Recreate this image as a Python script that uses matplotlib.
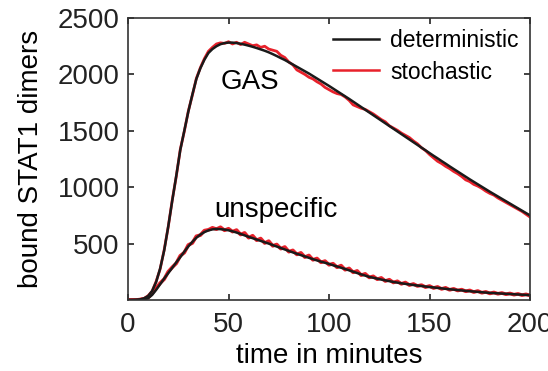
import matplotlib
matplotlib.use('Agg')
import matplotlib.pyplot as plt
import numpy as np

plt.rcParams['font.family'] = ['Liberation Sans', 'DejaVu Sans']

# time grid in minutes (2 min steps)
t = np.arange(0, 201, 2)

gas_det = [0, 0, 2, 5, 15, 35, 80, 160, 280, 440,
           650, 880, 1100, 1330, 1500, 1670, 1820, 1960, 2055, 2130,
           2190, 2225, 2250, 2268, 2278, 2282, 2282, 2278, 2272, 2264,
           2255, 2245, 2234, 2222, 2210, 2196, 2180, 2163, 2145, 2128,
           2108, 2088, 2068, 2048, 2028, 2008, 1986, 1964, 1942, 1920,
           1898, 1875, 1852, 1829, 1806, 1783, 1759, 1735, 1711, 1687,
           1663, 1639, 1615, 1591, 1567, 1543, 1519, 1495, 1471, 1447,
           1423, 1399, 1375, 1351, 1327, 1303, 1279, 1256, 1232, 1209,
           1185, 1162, 1139, 1116, 1093, 1070, 1048, 1026, 1004, 982,
           960, 939, 918, 897, 876, 855, 834, 813, 792, 771,
           750]

gas_sto = [0, 0, 3, 6, 14, 38, 78, 165, 275, 445,
           648, 885, 1095, 1335, 1495, 1675, 1815, 1965, 2060, 2140,
           2205, 2240, 2270, 2280, 2275, 2290, 2270, 2285, 2265, 2285,
           2270, 2255, 2262, 2240, 2250, 2225, 2215, 2205, 2170, 2150,
           2110, 2085, 2040, 2020, 2000, 1975, 1960, 1935, 1915, 1885,
           1865, 1845, 1830, 1822, 1800, 1770, 1730, 1715, 1700, 1690,
           1670, 1650, 1625, 1600, 1580, 1545, 1525, 1505, 1480, 1460,
           1440, 1410, 1385, 1350, 1325, 1290, 1260, 1230, 1210, 1185,
           1165, 1140, 1120, 1095, 1065, 1050, 1025, 1010, 990, 965,
           945, 930, 905, 885, 865, 845, 825, 805, 785, 760,
           735]

unsp_det = [0, 0, 0, 2, 8, 15, 45, 90, 140, 190,
            238, 285, 333, 380, 428, 475, 515, 552, 580, 602,
            617, 626, 630, 628, 624, 618, 609, 598, 586, 573,
            560, 548, 536, 524, 512, 500, 487, 474, 461, 448,
            435, 422, 410, 398, 386, 374, 362, 351, 340, 330,
            320, 308, 297, 286, 275, 263, 251, 239, 227, 216,
            205, 197, 189, 181, 174, 167, 160, 154, 148, 143,
            138, 133, 128, 124, 119, 115, 111, 107, 103, 99,
            95, 92, 88, 85, 81, 78, 75, 72, 69, 66,
            63, 61, 59, 57, 55, 53, 51, 49, 47, 45,
            44]

unsp_sto = [0, 1, 0, 4, 9, 22, 58, 105, 150, 185,
            250, 290, 325, 392, 420, 488, 505, 565, 575, 615,
            622, 640, 628, 645, 618, 632, 606, 620, 580, 595,
            552, 570, 530, 545, 505, 522, 480, 492, 455, 470,
            428, 440, 404, 418, 380, 395, 356, 368, 334, 345,
            312, 322, 290, 305, 268, 280, 245, 258, 220, 232,
            200, 210, 184, 196, 168, 180, 155, 166, 143, 155,
            132, 142, 124, 132, 114, 124, 106, 116, 98, 108,
            90, 99, 84, 92, 77, 85, 70, 80, 64, 72,
            58, 67, 55, 62, 51, 58, 47, 54, 43, 50,
            40]

fig = plt.figure(figsize=(5.48, 3.71), dpi=100)
ax = fig.add_axes([0.2336, 0.1914, 0.7336, 0.760])

red = '#e8212b'
ax.plot(t, gas_sto, color=red, lw=2.0)
ax.plot(t, unsp_sto, color=red, lw=2.6)
ax.plot(t, gas_det, color='#1a1a1a', lw=1.8, label='deterministic')
ax.plot(t, unsp_det, color='#1a1a1a', lw=1.8)
ax.plot([], [], color=red, lw=1.8, label='stochastic')

ax.text(60.7, 1933, 'GAS', fontsize=20, ha='center', va='center')
ax.text(73.6, 798, 'unspecific', fontsize=20, ha='center', va='center')

ax.set_xlim(0, 200)
ax.set_ylim(0, 2500)
ax.set_xticks([0, 50, 100, 150, 200])
ax.set_yticks([500, 1000, 1500, 2000, 2500])
ax.tick_params(direction='in', top=True, right=True, length=4, width=1.2,
               labelsize=20, colors='#222222')
ax.tick_params(axis='x', pad=9)
ax.tick_params(axis='y', pad=6)
for s in ax.spines.values():
    s.set_linewidth(1.2)
    s.set_color('#333333')

ax.set_xlabel('time in minutes', fontsize=20, labelpad=3)
ax.set_ylabel('bound STAT1 dimers', fontsize=20, labelpad=10)

ax.legend(loc='upper right', frameon=False, fontsize=16.5, handlelength=2.0,
          handletextpad=0.5, borderaxespad=0.1, labelspacing=0.35)

fig.savefig('out.png', dpi=100)
